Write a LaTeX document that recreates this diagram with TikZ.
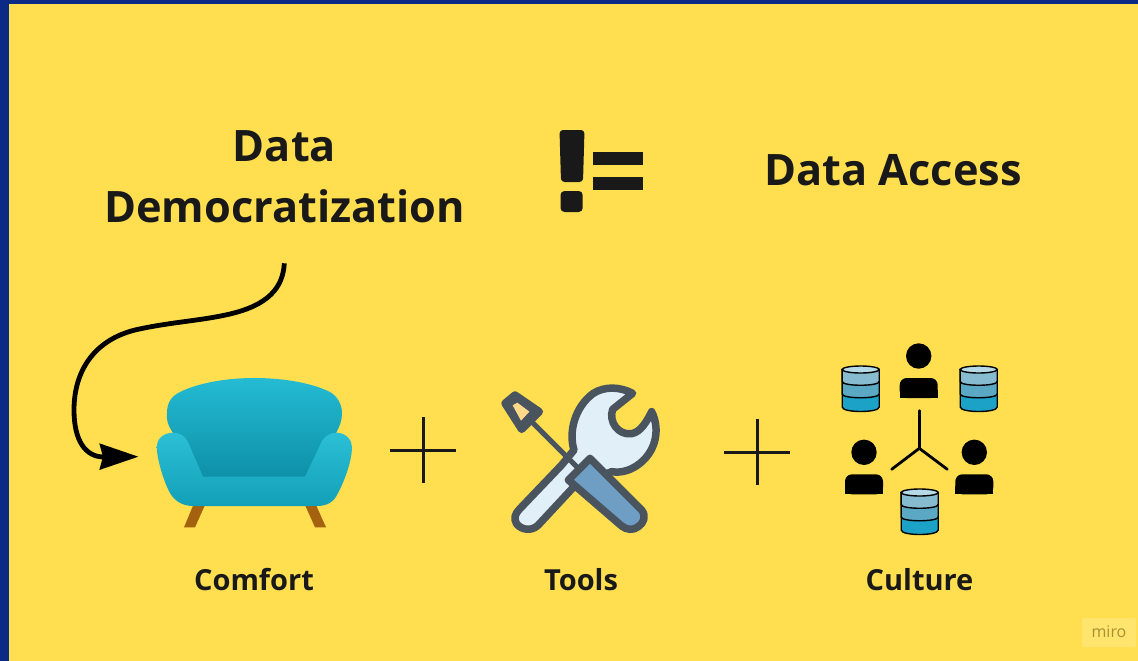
\documentclass[tikz,border=0pt]{standalone}
\usepackage{fontspec}
\setmainfont{Open Sans}
\definecolor{navy}{HTML}{0A2A86}
\definecolor{bgyellow}{HTML}{FFDF4F}
\definecolor{ink}{HTML}{191919}
\definecolor{toolgrey}{HTML}{4A545E}
\definecolor{toollight}{HTML}{E1F0F8}
\definecolor{toolblue}{HTML}{6E9EC4}
\definecolor{tooltip}{HTML}{FFD98A}
\definecolor{sofabrown}{HTML}{A4620F}
\definecolor{sofaA}{HTML}{24BBD3}
\definecolor{sofaB}{HTML}{0D90A8}
\definecolor{sofaC}{HTML}{2BBFD5}
\definecolor{sofaD}{HTML}{12A0B8}
\definecolor{dbt}{HTML}{B5DAE6}
\definecolor{dba}{HTML}{86BBD0}
\definecolor{dbb}{HTML}{5BA8C4}
\definecolor{dbc}{HTML}{1CA2C6}
\tikzset{
  titletext/.style={anchor=base,text=ink,font=\fontsize{43.3}{50}\selectfont\bfseries,inner sep=0pt},
  captiontext/.style={anchor=base,text=ink,font=\fontsize{29}{34}\selectfont\bfseries,inner sep=0pt},
  plusline/.style={line width=3pt,draw=ink},
  toolline/.style={line width=7.5pt,draw=toolgrey,line join=round,line cap=round},
  yline/.style={line width=2.8pt,draw=black,line cap=round},
  person/.pic={
    \fill[black] (0,-22) circle[radius=12.7];
    \fill[black,rounded corners=7pt] (-19,20) -- (-19,0) -- (19,0) -- (19,20) -- cycle;
    \fill[black] (-19,12) rectangle (19,20);
  },
  dbicon/.pic={
    \draw[line width=1.4pt,fill=dbc] (-18.5,3.5) -- (-18.5,41) .. controls (-18.5,47) and (18.5,47) .. (18.5,41) -- (18.5,3.5) -- cycle;
    \draw[line width=1.4pt,fill=dbb] (-18.5,3.5) -- (-18.5,28) .. controls (-18.5,33) and (18.5,33) .. (18.5,28) -- (18.5,3.5) -- cycle;
    \draw[line width=1.4pt,fill=dba] (-18.5,3.5) -- (-18.5,15.5) .. controls (-18.5,20.5) and (18.5,20.5) .. (18.5,15.5) -- (18.5,3.5) -- cycle;
    \draw[line width=1.4pt,fill=dbt] (0,3.5) ellipse[x radius=18.5,y radius=3.5];
  }
}
\begin{document}
\begin{tikzpicture}[x=1pt,y=-1pt]
\useasboundingbox (0,0) rectangle (1138,661);
\fill[navy] (0,0) rectangle (1138,661);
\fill[bgyellow] (9,4) rectangle (1138,661);

% titles
\node[titletext] (dataword) at (284.5,161) {Data};
\node[titletext] (democ) at (284.5,222) {Democratization};
\node[titletext] (access) at (893,185) {Data Access};

% not-equal mark
\fill[ink,rounded corners=3.5pt] (559.5,130) -- (584.5,130) -- (583,182) -- (561,182) -- cycle;
\fill[ink,rounded corners=4pt] (560.5,191) rectangle (582.7,212);
\fill[ink] (593.3,152) rectangle (643.3,164.7);
\fill[ink] (593.3,177) rectangle (643.3,189.7);

% connector
\coordinate (arrowfrom) at (284.3,263.3);
\coordinate (arrowto) at (138.3,456.7);
\draw[line width=4.8pt,draw=black] (arrowfrom) .. controls (283,288) and (268,305) .. (230,314)
  .. controls (200,321) and (170,322) .. (135,330)
  .. controls (95,340) and (74,370) .. (74,410)
  .. controls (74,440) and (85,457) .. (104,457);
\fill[black] (arrowto) -- (99.3,443.3) -- (103,456.7) -- (99.3,470) -- cycle;

% sofa
\fill[sofabrown] (193.3,505) -- (205,505) -- (195,527.3) -- (184,527.3) -- cycle;
\fill[sofabrown] (305,505) -- (316,505) -- (326,527.3) -- (315,527.3) -- cycle;
\shade[top color=sofaA,bottom color=sofaB] (173,433) .. controls (168,425) and (166,420) .. (167,413)
  .. controls (167,402) and (172,396) .. (180,392)
  .. controls (200,382) and (230,378) .. (254,378)
  .. controls (280,378) and (310,382) .. (330,392)
  .. controls (337,396) and (342,404) .. (342,413)
  .. controls (342,420) and (340,426) .. (336,433) -- (306,478) -- (202,478) -- cycle;
\shade[top color=sofaC,bottom color=sofaD] (173,432.7) .. controls (162,433) and (156.7,440) .. (156.7,447)
  .. controls (157,460) and (164,482) .. (170,493)
  .. controls (175,502) and (184,506) .. (193,506)
  -- (317,506)
  .. controls (327,506) and (334,502) .. (338,493)
  .. controls (345,480) and (352,460) .. (352,447)
  .. controls (352,440) and (346,433) .. (337,432.7)
  .. controls (330,432.7) and (325,436) .. (322,441)
  -- (305,476.7) -- (203,476.7) -- (188,442)
  .. controls (185,436) and (180,432.7) .. (173,432.7) -- cycle;

% plus signs
\draw[plusline] (390,450) -- (456,450);
\draw[plusline] (423,417) -- (423,483);
\draw[plusline] (724,452) -- (790,452);
\draw[plusline] (757,419) -- (757,485);

% tools
\begin{scope}[shift={(490,370)},x=0.3333pt,y=-0.3333pt]
  \draw[toolline,fill=toollight] (88,418) -- (215,285) -- (252,240)
    .. controls (235,185) and (255,110) .. (310,70)
    .. controls (345,48) and (390,50) .. (428,70)
    -- (368,118)
    .. controls (355,155) and (385,197) .. (425,191)
    .. controls (452,186) and (470,155) .. (485,125)
    .. controls (510,175) and (500,240) .. (450,280)
    .. controls (425,300) and (395,310) .. (365,305)
    -- (250,352) -- (145,465)
    .. controls (125,485) and (95,480) .. (80,462)
    .. controls (70,445) and (75,432) .. (88,418) -- cycle;
  \draw[toolline,line width=5pt] (125,155) -- (275,305);
  \draw[toolline,fill=toolgrey] (45,100) -- (75,75) -- (148,125) -- (95,178) -- cycle;
  \fill[tooltip] (68,106) -- (82,98) -- (118,125) -- (93,152) -- cycle;
  \draw[toolline,fill=toolblue] (235,330) -- (300,265) -- (455,420)
    .. controls (470,440) and (460,460) .. (445,470)
    .. controls (430,482) and (410,480) .. (395,468) -- cycle;
\end{scope}

% culture
\begin{scope}[shift={(830,335)},x=0.3333pt,y=-0.3333pt]
  \draw[yline] (268,227) -- (268,340) coordinate (yhub);
  \draw[yline] (yhub) -- (185,403);
  \draw[yline] (yhub) -- (352,403);
\end{scope}
\pic at (918.7,378) {person};
\pic at (864,474.3) {person};
\pic at (974.3,474.3) {person};
\pic at (860.7,366) {dbicon};
\pic at (978.7,366) {dbicon};
\pic at (919.7,489) {dbicon};

% captions
\node[captiontext] (comfort) at (254,590) {Comfort};
\node[captiontext] (tools) at (581,590) {Tools};
\node[captiontext] (culture) at (919.5,590) {Culture};

% watermark
\fill[white,opacity=.18,rounded corners=2pt] (1082,618) rectangle (1136,647);
\node[anchor=base,inner sep=0pt,text=black!35!bgyellow,font=\fontsize{16}{18}\selectfont] (miro) at (1109,637) {miro};
\end{tikzpicture}
\end{document}
